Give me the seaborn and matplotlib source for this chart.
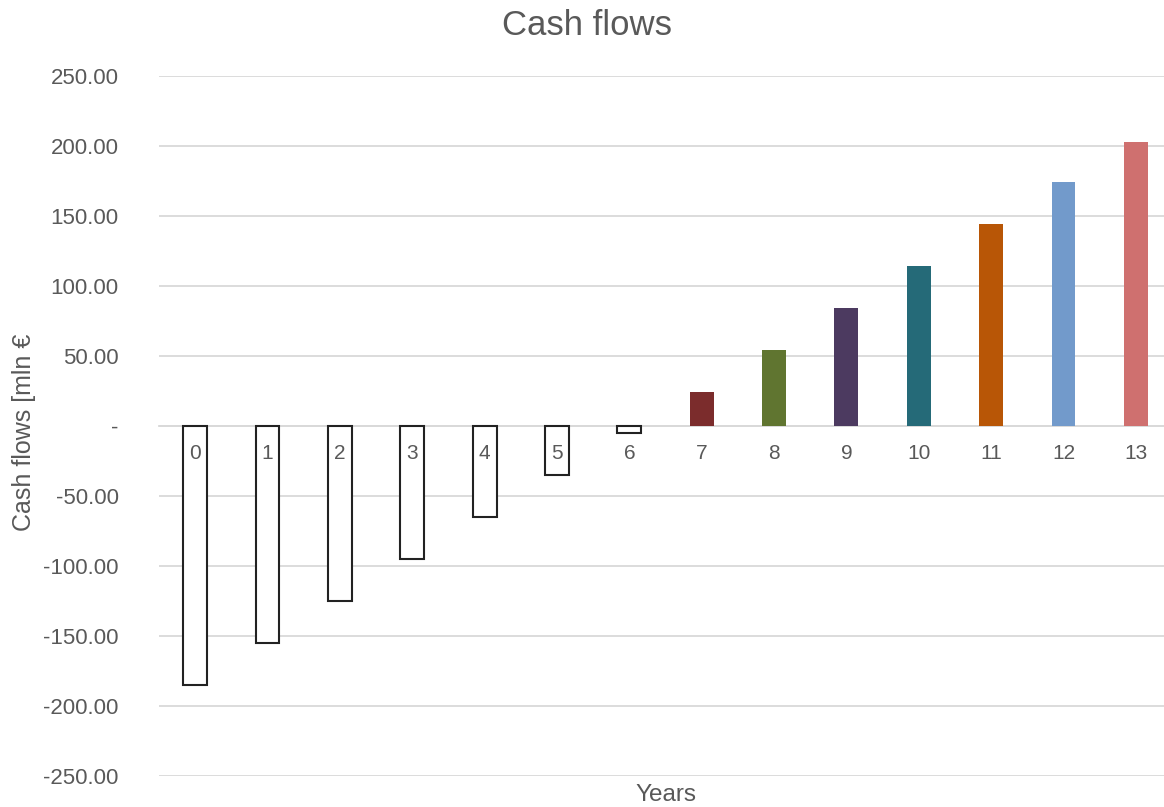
import matplotlib
matplotlib.use("Agg")
import matplotlib.pyplot as plt
import seaborn as sns
import pandas as pd

# Yearly cash flows [mln €]
years = ["0", "1", "2", "3", "4", "5", "6", "7", "8", "9", "10", "11", "12", "13"]
cash_flows = [-185, -155, -125, -95, -65, -35, -5, 24, 54, 84, 114, 144, 174, 203]
bar_colors = ["#FFFFFF", "#FFFFFF", "#FFFFFF", "#FFFFFF", "#FFFFFF", "#FFFFFF", "#FFFFFF",
              "#7B2C2C", "#607530", "#4C3A60", "#256A78", "#B85606", "#729ACB", "#CF706F"]
y_ticks = [-250, -200, -150, -100, -50, 0, 50, 100, 150, 200, 250]

sns.set_theme(style="white")
plt.rcParams["font.family"] = ["Liberation Sans", "DejaVu Sans"]

text_gray = "#595959"
grid_gray = "#D9D9D9"

df = pd.DataFrame({"Year": years, "Cash flow": cash_flows})

fig = plt.figure(figsize=(11.64, 8.07), dpi=100)
ax = fig.add_axes([0.1366, 0.0384, 0.8703, 0.8674])

sns.barplot(data=df, x="Year", y="Cash flow", hue="Year", order=years,
            palette=dict(zip(years, bar_colors)), legend=False,
            width=0.33, saturation=1, ax=ax, zorder=3)

# Outline the negative (outflow) bars
for patch, val in zip(ax.patches, cash_flows):
    if val < 0:
        patch.set_edgecolor("#222222")
        patch.set_linewidth(1.5)
    else:
        patch.set_edgecolor("none")

ax.set_xlim(-0.5, len(years) - 0.5)
ax.set_ylim(-250, 250)
ax.set_yticks(y_ticks)
ax.set_yticklabels(["-" if v == 0 else f"{v:.2f}" for v in y_ticks])

ax.yaxis.grid(True, color=grid_gray, linewidth=1.3, zorder=0)
ax.set_axisbelow(True)
# year labels sit on the zero line, drawn above the bars
ax.xaxis.set_zorder(5)

for side in ["top", "right", "left"]:
    ax.spines[side].set_visible(False)
ax.spines["bottom"].set_position(("data", 0))
ax.spines["bottom"].set_color(grid_gray)
ax.spines["bottom"].set_linewidth(1.3)
ax.spines["bottom"].set_zorder(1)

ax.tick_params(axis="x", length=0, pad=13, labelsize=15, labelcolor=text_gray)
ax.tick_params(axis="y", length=0, pad=29, labelsize=16, labelcolor=text_gray)

fig.text(0.504, 0.968, "Cash flows", fontsize=25, color=text_gray,
         ha="center", va="center")
ax.set_xlabel("Years", fontsize=17.5, color=text_gray)
ax.xaxis.set_label_coords(0.5, -0.011)
ax.set_ylabel("")
fig.text(24 / 1164, 0.4647, "Cash flows [mln €", fontsize=18, color=text_gray,
         rotation=90, ha="center", va="center")

fig.savefig("out.png", dpi=100, facecolor="white")
